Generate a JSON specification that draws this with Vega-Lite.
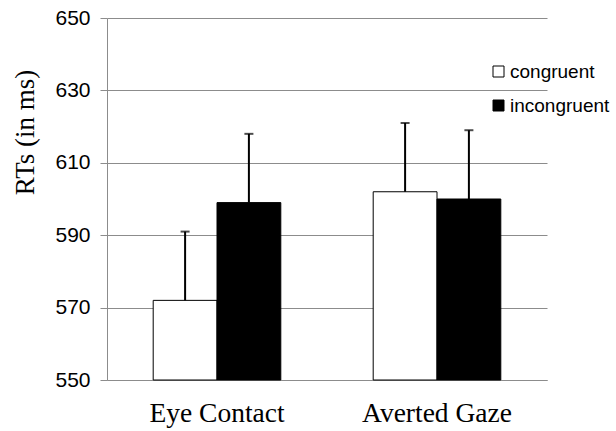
{
  "$schema": "https://vega.github.io/schema/vega-lite/v6.json",
  "autosize": {"type": "none"},
  "width": 440,
  "height": 362,
  "padding": {"left": 107, "top": 18, "right": 69, "bottom": 51},
  "background": "white",
  "config": {
    "view": {"stroke": null},
    "axis": {"labelColor": "black", "titleColor": "black"}
  },
  "data": {
    "values": [
      {"cond": "Eye Contact", "type": "congruent", "rt": 572, "upper": 591},
      {"cond": "Eye Contact", "type": "incongruent", "rt": 599, "upper": 618},
      {"cond": "Averted Gaze", "type": "congruent", "rt": 602, "upper": 621},
      {"cond": "Averted Gaze", "type": "incongruent", "rt": 600, "upper": 619}
    ]
  },
  "encoding": {
    "x": {
      "field": "cond", "type": "nominal", "sort": ["Eye Contact", "Averted Gaze"],
      "scale": {"paddingInner": 0.42, "paddingOuter": 0.21},
      "axis": {"title": null, "labelAngle": 0, "ticks": false, "domainColor": "#8c8c8c",
               "labelFont": "Liberation Serif", "labelFontSize": 27.5, "labelPadding": 19}
    },
    "xOffset": {"field": "type", "type": "nominal", "scale": {"paddingInner": 0, "paddingOuter": 0}}
  },
  "layer": [
    {
      "mark": {"type": "bar", "stroke": "black", "strokeWidth": 1},
      "encoding": {
        "y": {
          "field": "rt", "type": "quantitative",
          "scale": {"domain": [550, 650], "zero": false, "nice": false},
          "axis": {"title": "RTs (in ms)", "values": [550, 570, 590, 610, 630, 650],
                   "grid": true, "gridColor": "#8c8c8c", "domainColor": "#8c8c8c", "tickColor": "#8c8c8c",
                   "tickSize": 7, "labelFont": "Liberation Sans", "labelFontSize": 21, "labelPadding": 10,
                   "titleFont": "Liberation Serif", "titleFontSize": 27, "titleFontWeight": "normal",
                   "titleX": -82, "titleY": 114, "titleAlign": "center", "titleBaseline": "middle", "titleAngle": -90}
        },
        "y2": {"datum": 550},
        "fill": {
          "field": "type", "type": "nominal",
          "scale": {"domain": ["congruent", "incongruent"], "range": ["white", "black"]},
          "legend": {"title": null, "orient": "none", "legendX": 382, "legendY": 44,
                     "symbolType": "square", "symbolSize": 121, "symbolStrokeColor": "black", "symbolStrokeWidth": 1,
                     "labelFont": "Liberation Sans", "labelFontSize": 19, "labelColor": "black", "labelLimit": 200,
                     "labelOffset": 2, "rowPadding": 14}
        }
      }
    },
    {
      "mark": {"type": "rule", "color": "black", "strokeWidth": 2},
      "encoding": {
        "y": {"field": "rt", "type": "quantitative"},
        "y2": {"field": "upper"}
      }
    },
    {
      "mark": {"type": "tick", "color": "black", "thickness": 2, "size": 9, "orient": "horizontal"},
      "encoding": {
        "y": {"field": "upper", "type": "quantitative"}
      }
    }
  ]
}
